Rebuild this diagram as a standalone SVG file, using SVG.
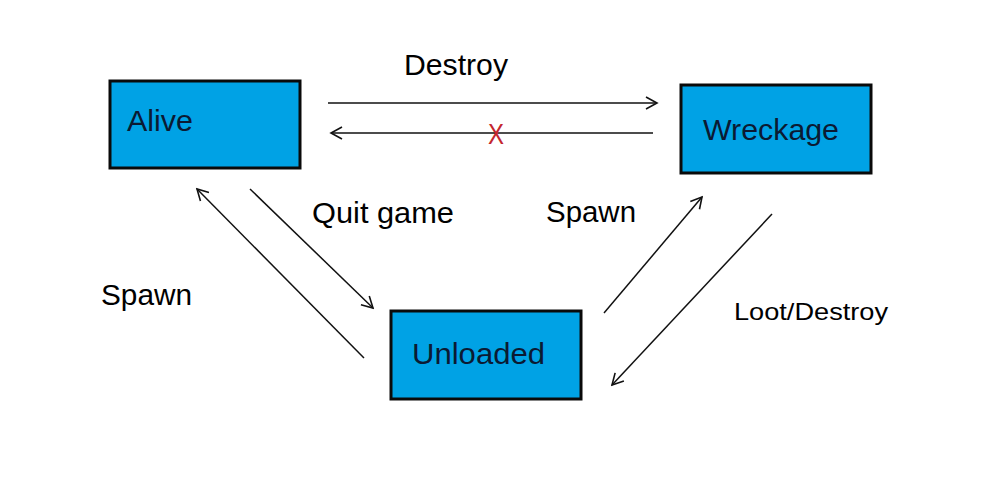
<svg xmlns="http://www.w3.org/2000/svg" width="1000" height="500" viewBox="0 0 1000 500">
<style>
.box{fill:#00A2E5;stroke:#0a0a0a;stroke-width:3}
.bt{font-family:"Liberation Sans",Arial,sans-serif;font-size:29px;fill:#0b1a33}
.lbl{font-family:"Liberation Sans",Arial,sans-serif;font-size:29px;fill:#000}
.small{font-size:24px}
.edge{stroke:#111;stroke-width:1.5;fill:none;marker-end:url(#ah)}
</style>
<defs>
<marker id="ah" markerUnits="userSpaceOnUse" markerWidth="14" markerHeight="14" refX="12" refY="7" orient="auto" viewBox="0 0 14 14">
<path d="M1,1 L12,7 L1,13" fill="none" stroke="#111" stroke-width="1.6"/>
</marker>
</defs>
<rect width="1000" height="500" fill="#fff"/>
<g id="alive">
<rect class="box" x="110" y="81" width="190" height="87"/>
<text class="bt" x="127" y="131" textLength="66" lengthAdjust="spacingAndGlyphs">Alive</text>
</g>
<g id="wreckage">
<rect class="box" x="681" y="85" width="190" height="88"/>
<text class="bt" x="703" y="140" textLength="136" lengthAdjust="spacingAndGlyphs">Wreckage</text>
</g>
<g id="unloaded">
<rect class="box" x="391" y="311" width="190" height="88"/>
<text class="bt" x="412" y="364" textLength="133" lengthAdjust="spacingAndGlyphs">Unloaded</text>
</g>
<g id="connectors">
<line class="edge" x1="328" y1="103" x2="657" y2="103"/>
<line class="edge" x1="653" y1="133" x2="331" y2="133"/>
<line class="edge" x1="250" y1="189" x2="373" y2="308"/>
<line class="edge" x1="364" y1="358" x2="197" y2="189"/>
<line class="edge" x1="604" y1="313" x2="702" y2="197"/>
<line class="edge" x1="772" y1="214" x2="612" y2="385"/>
</g>
<g id="labels">
<text class="lbl" x="404" y="75" textLength="104" lengthAdjust="spacingAndGlyphs">Destroy</text>
<text x="488" y="144" font-family="Liberation Sans, Arial, sans-serif" font-size="29" fill="#c4262e" textLength="16" lengthAdjust="spacingAndGlyphs">X</text>
<text class="lbl" x="312" y="223" textLength="142" lengthAdjust="spacingAndGlyphs">Quit game</text>
<text class="lbl" x="546" y="222" textLength="90" lengthAdjust="spacingAndGlyphs">Spawn</text>
<text class="lbl" x="101" y="305" textLength="91" lengthAdjust="spacingAndGlyphs">Spawn</text>
<text class="lbl small" x="734" y="320" textLength="154" lengthAdjust="spacingAndGlyphs">Loot/Destroy</text>
</g>
</svg>
